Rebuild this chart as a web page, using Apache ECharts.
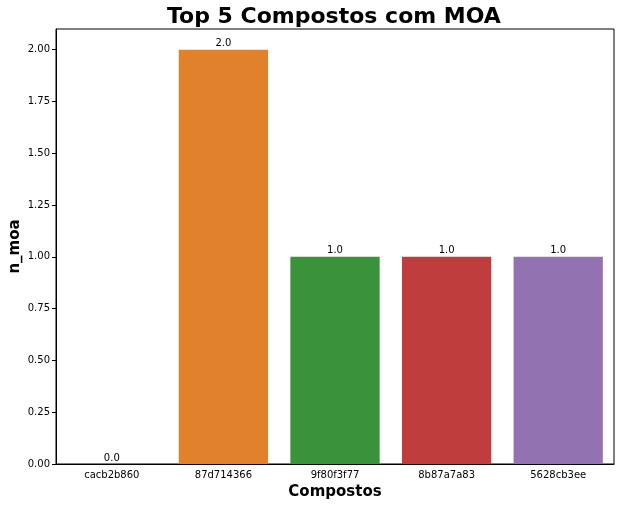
<!DOCTYPE html>
<html><head><meta charset="utf-8">
<script src="https://cdn.jsdelivr.net/npm/echarts@6/dist/echarts.min.js"></script>
<style>html,body{margin:0;padding:0;background:#fff}#c{width:620px;height:507px}</style>
</head><body><div id="c"></div>
<script>
const categories = ['cacb2b860','87d714366','9f80f3f77','8b87a7a83','5628cb3ee'];
const values = [0, 2, 1, 1, 1];
const colors = ['#3274a1','#e1812c','#3a923a','#c03d3e','#9372b2'];
const font = 'DejaVu Sans';
const chart = echarts.init(document.getElementById('c'), null, {renderer:'canvas'});
chart.setOption({
  animation:false,
  backgroundColor:'#fff',
  title:{text:'Top 5 Compostos com MOA', left:167, top:6, padding:0,
    textStyle:{fontFamily:font, fontSize:22, fontWeight:'bold', color:'#000'}},
  grid:{left:56, right:6, top:29, bottom:43, show:true, borderColor:'#000', borderWidth:1,
    backgroundColor:'transparent', containLabel:false, outerBoundsMode:'none'},
  xAxis:{type:'category', data:categories, name:'Compostos', nameLocation:'middle', nameGap:21,
    nameMoveOverlap:false,
    nameTextStyle:{fontFamily:font, fontSize:15, fontWeight:'bold', color:'#000'},
    axisLine:{lineStyle:{color:'#000', width:1}},
    axisTick:{alignWithLabel:true, length:4, lineStyle:{color:'#000'}},
    axisLabel:{fontFamily:font, fontSize:10, color:'#000', margin:6},
    splitLine:{show:false}},
  yAxis:{type:'value', min:0, max:2.1, interval:0.25, name:'n_moa', nameLocation:'middle', nameGap:33,
    nameMoveOverlap:false,
    nameTextStyle:{fontFamily:font, fontSize:15, fontWeight:'bold', color:'#000'},
    axisLine:{show:true, lineStyle:{color:'#000', width:1}},
    axisTick:{show:true, length:4, lineStyle:{color:'#000'}},
    axisLabel:{fontFamily:font, fontSize:10, color:'#000', margin:6, showMaxLabel:false,
      formatter:v=>v.toFixed(2)},
    splitLine:{show:false}},
  series:[{type:'bar', barWidth:'80%',
    data: values.map((v,i)=>({value:v, itemStyle:{color:colors[i], borderWidth:0}})),
    label:{show:true, position:'top', distance:1, fontFamily:font, fontSize:10, color:'#000',
      formatter:p=>p.value.toFixed(1)}}]
});
</script></body></html>
